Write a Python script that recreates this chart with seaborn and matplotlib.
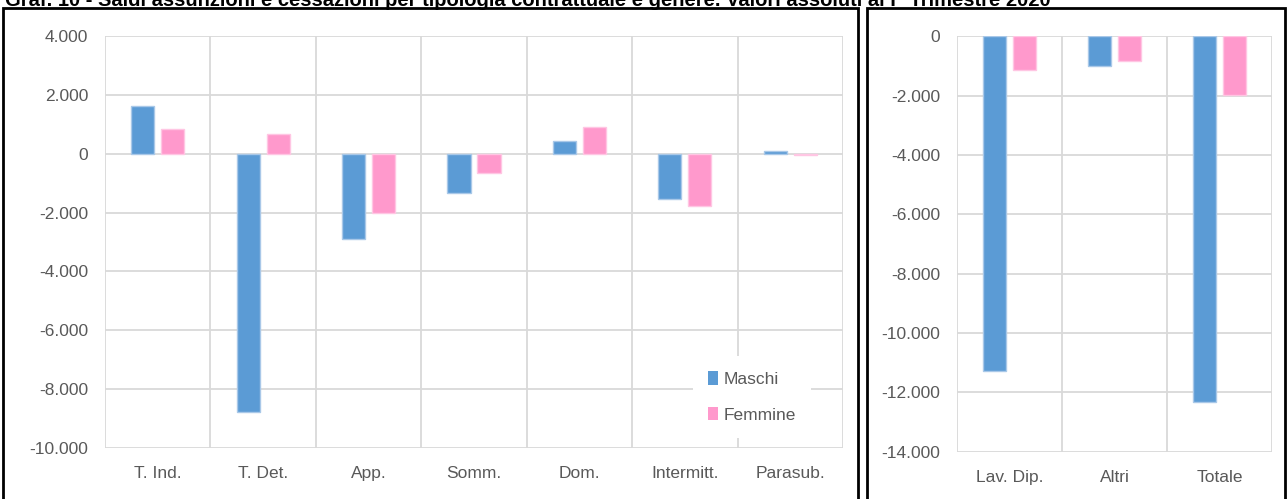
import matplotlib
matplotlib.use("Agg")
import matplotlib.pyplot as plt
import numpy as np
import pandas as pd
import seaborn as sns
from matplotlib.patches import Patch, Rectangle
from matplotlib.ticker import FuncFormatter, FixedLocator

# ── data ─────────────────────────────────────────────────────────────
TITLE = ("Graf. 10 - Saldi assunzioni e cessazioni per tipologia contrattuale "
         "e genere. Valori assoluti al I° Trimestre 2020")
SERIES = ["Maschi", "Femmine"]

LEFT_CATS = ["T. Ind.", "T. Det.", "App.", "Somm.", "Dom.", "Intermitt.", "Parasub."]
LEFT_MASCHI = [1620, -8780, -2900, -1350, 440, -1540, 80]
LEFT_FEMMINE = [850, 670, -2000, -640, 920, -1770, -30]

RIGHT_CATS = ["Lav. Dip.", "Altri", "Totale"]
RIGHT_MASCHI = [-11300, -1010, -12320]
RIGHT_FEMMINE = [-1130, -830, -1970]

COLORS = {"Maschi": "#5B9BD5", "Femmine": "#FF99CC"}
EDGES = {"Maschi": "#A9C8E8", "Femmine": "#FFC6E3"}
GRID = "#D9D9D9"
TXT = "#595959"

sns.set_theme(style="white")
plt.rcParams["font.family"] = ["Liberation Sans", "DejaVu Sans"]


def long_df(cats, m, f):
    return pd.DataFrame({
        "cat": cats * 2,
        "serie": ["Maschi"] * len(cats) + ["Femmine"] * len(cats),
        "val": list(m) + list(f),
    })


def fmt_it(v, _pos=None):
    return f"{int(round(v)):,}".replace(",", ".")


def draw_panel(ax, df, cats, ylim, step):
    sns.barplot(data=df, x="cat", y="val", hue="serie", order=cats,
                hue_order=SERIES, palette=COLORS, saturation=1, width=0.57,
                gap=0.23, errorbar=None, legend=False, ax=ax, zorder=3)
    for cont, s in zip(ax.containers, SERIES):
        for bar in cont:
            bar.set_edgecolor(EDGES[s])
            bar.set_linewidth(1.0)
    n = len(cats)
    ax.set_xlim(-0.5, n - 0.5)
    ax.set_ylim(*ylim)
    ax.yaxis.set_major_locator(FixedLocator(np.arange(ylim[0], ylim[1] + 1, step)))
    ax.yaxis.set_major_formatter(FuncFormatter(fmt_it))
    ax.xaxis.set_minor_locator(FixedLocator(np.arange(-0.5, n, 1.0)))
    ax.grid(True, axis="y", which="major", color=GRID, lw=1.3, zorder=0)
    ax.grid(True, axis="x", which="minor", color=GRID, lw=1.3, zorder=0)
    ax.set_axisbelow(True)
    for sp in ax.spines.values():
        sp.set_visible(False)
    ax.tick_params(axis="both", which="both", length=0, colors=TXT, labelsize=12.5)
    ax.tick_params(axis="y", pad=12)
    ax.tick_params(axis="x", pad=13)
    ax.set_xlabel("")
    ax.set_ylabel("")


fig = plt.figure(figsize=(12.88, 4.99), dpi=100)

ax1 = fig.add_axes([105 / 1288, 1 - 448 / 499, 738 / 1288, 412 / 499])
draw_panel(ax1, long_df(LEFT_CATS, LEFT_MASCHI, LEFT_FEMMINE), LEFT_CATS,
           (-10000, 4000), 2000)

ax2 = fig.add_axes([957 / 1288, 1 - 451.5 / 499, 315 / 1288, 415 / 499])
draw_panel(ax2, long_df(RIGHT_CATS, RIGHT_MASCHI, RIGHT_FEMMINE), RIGHT_CATS,
           (-14000, 0), 2000)

handles = [Patch(facecolor=COLORS[s], edgecolor="none", label=s) for s in SERIES]
leg = ax1.legend(handles=handles, loc="center", bbox_to_anchor=(752 / 1288, 1 - 397 / 499),
                 bbox_transform=fig.transFigure, frameon=True, fontsize=12.5,
                 handlelength=0.55, handleheight=0.8, handletextpad=0.3,
                 labelspacing=1.15, borderpad=0.9, borderaxespad=0)
leg.get_frame().set_facecolor("white")
leg.get_frame().set_edgecolor("none")
leg.get_frame().set_alpha(1.0)
for t in leg.get_texts():
    t.set_color(TXT)

# panel borders
for x0, x1 in [(3, 858), (867, 1285)]:
    fig.patches.append(Rectangle((x0 / 1288, -0.05), (x1 - x0) / 1288, 1.05 - 8 / 499,
                                 transform=fig.transFigure, fill=False,
                                 edgecolor="black", lw=2.0))

# the title sits half above the top edge, as in the source page
fig.text(5 / 1288, 1.0, TITLE, ha="left", va="center", fontsize=14.5,
         fontweight="bold", color="black")

fig.savefig("out.png", dpi=100)
